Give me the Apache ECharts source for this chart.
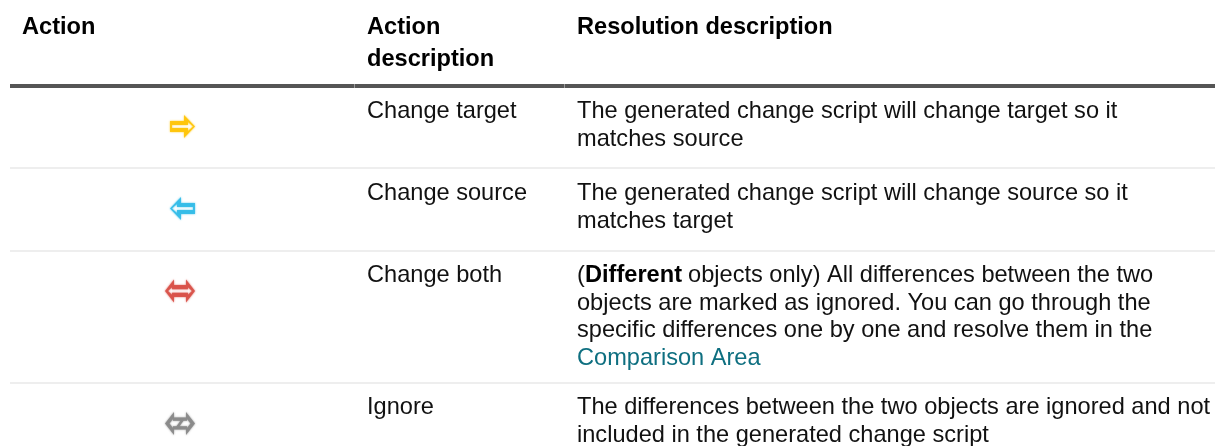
<!DOCTYPE html>
<html><head><meta charset="utf-8">
<style>html,body{margin:0;padding:0;background:#fff}#c{width:1215px;height:446px}</style>
<script src="https://cdn.jsdelivr.net/npm/echarts@6/dist/echarts.min.js"></script>
</head><body><div id="c"></div>
<script>
const columnHeaders = [["Action"], ["Action","description"], ["Resolution description"]];
const actionNames = ["Change target","Change source","Change both","Ignore"];
const resolutionLines = [
  ["The generated change script will change target so it","matches source"],
  ["The generated change script will change source so it","matches target"],
  ["(|Different| objects only) All differences between the two","objects are marked as ignored. You can go through the","specific differences one by one and resolve them in the","Comparison Area"],
  ["The differences between the two objects are ignored and not","included in the generated change script"]
];
const iconRows = ["right","left","both","none"];
const iconColors = ["#FFC60B","#35BDE8","#D9534A","#8A8A8A"];

const SHAPE={
 right:'path://M0 6H14V0L25 11.5L14 23V17H0ZM2 10V13H18V16L23 11.5L18 7V10Z',
 left:'path://M25 6H11V0L0 11.5L11 23V17H25ZM23 10V13H7V16L2 11.5L7 7V10Z',
 both:'path://M0 11.5L9 1V6H21V1L30 11.5L21 22V17H9V22ZM3 11.5L7 15V13H23V15L27 11.5L23 8V10H7V8Z',
 none:'path://M0 11.5L9 1V6H21V1L30 11.5L21 22V17H9V22ZM4.5 11.5L8 15.5V14H11.5L15.5 9H8V7.5ZM25.5 11.5L22 7.5V9H18.5L14.5 14H22V15.5Z'
};
const iconX=[182.5,182.5,180,180], iconY=[126.5,208.5,291,423.5], iconW=[25,25,30,30], iconH=[23,23,23,23];
const rowBase=[119.3,201,283.3,415], rules=[167,250,382], colTicks=[354,564];
const FONT='"Liberation Sans",Arial,sans-serif', FS=23.6, PITCH=27.5, BASE_OFF=19.5;
const X=[22,367,577];
const g=[];
function t(s,x,y,o){g.push({type:'text',x,y:y-BASE_OFF,z:5,style:Object.assign({text:s,fill:'#111',font:`${FS}px ${FONT}`},o||{})});}
const B={font:`bold ${FS}px ${FONT}`,fill:'#000'};
columnHeaders.forEach((h,i)=>h.forEach((s,j)=>t(s,X[i],34.7+j*32,B)));
g.push({type:'rect',shape:{x:10,y:84,width:1205,height:4},style:{fill:'#555555'}});
colTicks.forEach(x=>g.push({type:'rect',z:3,shape:{x,y:84,width:1,height:4},style:{fill:'#999999'}}));
rules.forEach(y=>g.push({type:'rect',shape:{x:10,y,width:1205,height:2},style:{fill:'#eeeeee'}}));
actionNames.forEach((s,i)=>t(s,X[1],rowBase[i],{}));
resolutionLines.forEach((ls,i)=>ls.forEach((l,j)=>{
  const y=rowBase[i]+j*PITCH;
  if(l.includes('|')){const p=l.split('|');t(p[0],X[2],y);t(p[1],X[2]+8,y,B);t(p[2],X[2]+104.5,y);}
  else t(l,X[2],y,l==='Comparison Area'?{fill:'#0E6F80'}:{});
}));
const chart=echarts.init(document.getElementById('c'),null,{renderer:'canvas'});
chart.setOption({animation:false,
 grid:{left:0,right:0,top:0,bottom:0},
 xAxis:{type:'value',min:0,max:1215,show:false},
 yAxis:{type:'value',min:0,max:446,inverse:true,show:false},
 graphic:g,
 series:iconRows.map((k,i)=>({type:'scatter',symbol:SHAPE[k],symbolSize:[iconW[i],iconH[i]],silent:true,z:2,
   itemStyle:{color:iconColors[i],opacity:.92,shadowBlur:2,shadowColor:iconColors[i]},
   data:[[iconX[i],iconY[i]]]}))
});
</script></body></html>
